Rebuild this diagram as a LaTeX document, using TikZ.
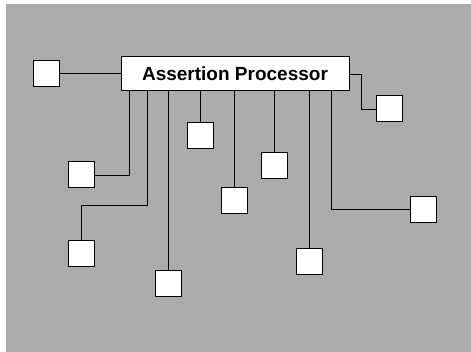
\documentclass[tikz,border=0pt]{standalone}
\usepackage{fontspec}
\setmainfont{Liberation Sans}
\tikzset{
  unit/.style={draw, fill=white, minimum size=26pt, inner sep=0pt, line width=1pt},
  proc/.style={draw, fill=white, minimum width=228pt, minimum height=34pt, inner sep=0pt, line width=1pt, font=\fontsize{19}{22}\selectfont\bfseries},
  wire/.style={line width=0.9pt}
}
\begin{document}
\begin{tikzpicture}[x=1pt,y=-1pt]
			\useasboundingbox (0,0) rectangle (471,352);
			\fill[black!33] (6,4) rectangle (471,352);
			\node[proc] (ap) at (235,74) {Assertion Processor};
			\node[unit] (u1) at (46.5,73.5) {};
			\node[unit] (u2) at (389,109) {};
			\node[unit] (u3) at (200,135.5) {};
			\node[unit] (u4) at (274,166) {};
			\node[unit] (u5) at (81,175) {};
			\node[unit] (u6) at (234.5,201) {};
			\node[unit] (u7) at (81,253.5) {};
			\node[unit] (u8) at (168.5,284) {};
			\node[unit] (u9) at (309.5,262) {};
			\node[unit] (u10) at (423,209.5) {};
			\coordinate (b5) at (129,0);
			\coordinate (b7) at (147,205);
			\coordinate (b10) at (331,0);
			\draw[wire] (u1.east) -- (ap.west |- u1.east);
			\draw[wire] (ap.east) -- ++(12,0) |- (u2.west);
			\draw[wire] (ap.south -| b5) |- (u5.east);
			\draw[wire] (ap.south -| b7) -- (b7) -| (u7.north);
			\draw[wire] (ap.south -| u8) -- (u8.north);
			\draw[wire] (ap.south -| u3) -- (u3.north);
			\draw[wire] (ap.south -| u6) -- (u6.north);
			\draw[wire] (ap.south -| u4) -- (u4.north);
			\draw[wire] (ap.south -| u9) -- (u9.north);
			\draw[wire] (ap.south -| b10) |- (u10.west);
		\end{tikzpicture}
\end{document}
